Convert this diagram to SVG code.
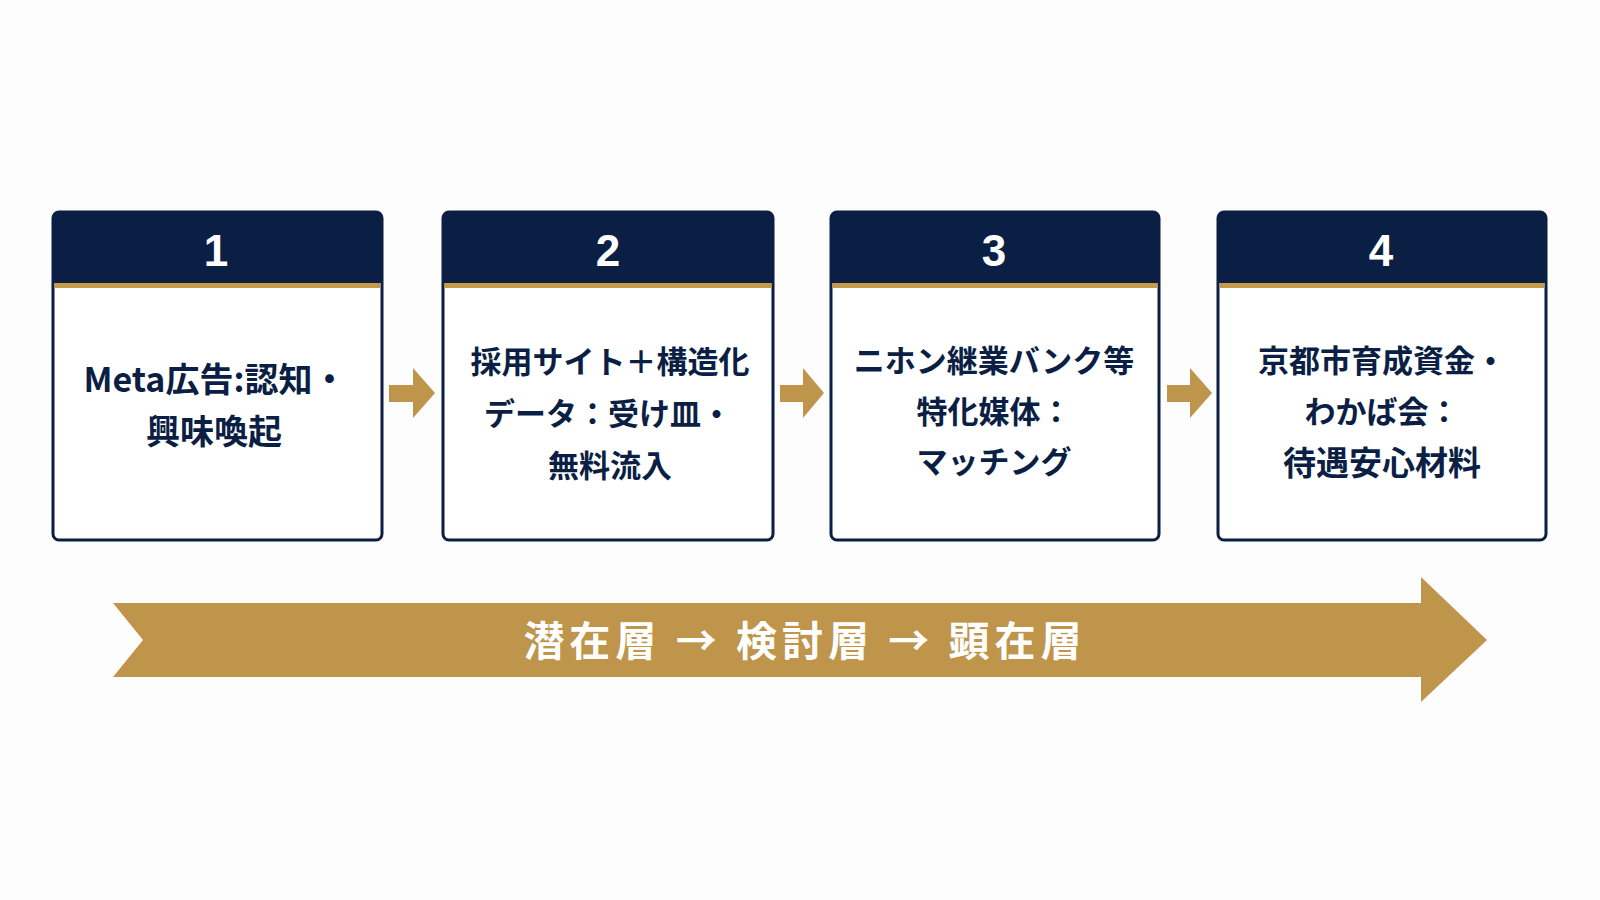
<svg xmlns="http://www.w3.org/2000/svg" width="1600" height="900" viewBox="0 0 1600 900">
<style>
.card{fill:#FFFFFF;stroke:#0B1F45;stroke-width:3}
.head{fill:#0B1F45}
.stripe{fill:#C49A4A}
.num{font-family:"Liberation Sans","Noto Sans",sans-serif;font-weight:bold;font-size:44px;fill:#FFFFFF;text-anchor:middle;dominant-baseline:central}
.body{font-family:"Noto Sans CJK JP","Noto Sans",sans-serif;font-weight:bold;font-size:31px;fill:#0B1F45;text-anchor:middle;dominant-baseline:central}
.gold{fill:#BE954B}
.band{font-family:"Noto Sans CJK JP",sans-serif;font-weight:bold;font-size:41px;fill:#FFFFFF;text-anchor:middle;dominant-baseline:central;letter-spacing:5px}
</style>
<rect width="1600" height="900" fill="#FDFDFD"/>
<g id="node1">
<rect class="card" x="53" y="212" width="329" height="328" rx="6"/>
<path class="head" d="M53,283 V218 Q53,212 59,212 H376 Q382,212 382,218 V283 Z"/>
<rect class="stripe" x="54.5" y="283" width="326" height="5"/>
<text class="num" x="216" y="250">1</text>
<text class="body" x="215" y="377" style="font-size:34px">Meta広告:認知・</text>
<text class="body" x="214" y="429" style="font-size:34px">興味喚起</text>
</g>
<g id="node2">
<rect class="card" x="443" y="212" width="330" height="328" rx="6"/>
<path class="head" d="M443,283 V218 Q443,212 449,212 H767 Q773,212 773,218 V283 Z"/>
<rect class="stripe" x="444.5" y="283" width="327" height="5"/>
<text class="num" x="608" y="250">2</text>
<text class="body" x="610" y="359">採用サイト＋構造化</text>
<text class="body" x="608" y="411">データ：受け皿・</text>
<text class="body" x="610" y="463">無料流入</text>
</g>
<g id="node3">
<rect class="card" x="831" y="212" width="328" height="328" rx="6"/>
<path class="head" d="M831,283 V218 Q831,212 837,212 H1153 Q1159,212 1159,218 V283 Z"/>
<rect class="stripe" x="832.5" y="283" width="325" height="5"/>
<text class="num" x="994" y="250">3</text>
<text class="body" x="994" y="358">ニホン継業バンク等</text>
<text class="body" x="994" y="409">特化媒体：</text>
<text class="body" x="994" y="459">マッチング</text>
</g>
<g id="node4">
<rect class="card" x="1218" y="212" width="328" height="328" rx="6"/>
<path class="head" d="M1218,283 V218 Q1218,212 1224,212 H1540 Q1546,212 1546,218 V283 Z"/>
<rect class="stripe" x="1219.5" y="283" width="325" height="5"/>
<text class="num" x="1381" y="250">4</text>
<text class="body" x="1382" y="358">京都市育成資金・</text>
<text class="body" x="1382" y="409">わかば会：</text>
<text class="body" x="1382" y="461" style="font-size:33px">待遇安心材料</text>
</g>
<g id="connectors">
<polygon class="gold" points="389,385 413,385 413,368 435,393 413,418 413,402 389,402"/>
<polygon class="gold" points="780,385 803,385 803,368 824,393 803,418 803,402 780,402"/>
<polygon class="gold" points="1167,385 1190,385 1190,368 1212,393 1190,418 1190,402 1167,402"/>
</g>
<g id="flow">
<polygon class="gold" points="113,603 1421,603 1421,577 1487,640 1421,702 1421,677 113,677 143,640"/>
<text class="band" x="805" y="638">潜在層 → 検討層 → 顕在層</text>
</g>
</svg>
